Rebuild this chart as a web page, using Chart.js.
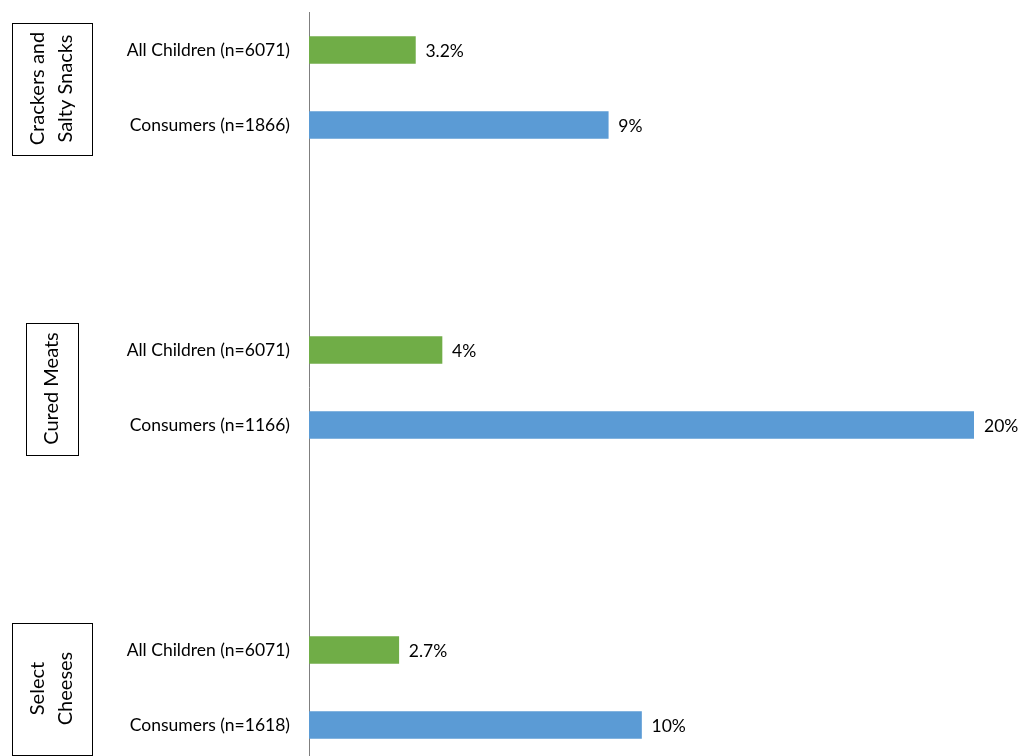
<!DOCTYPE HTML>
<html>
<head>
  <meta charset="UTF-8">
  <script src="https://cdn.jsdelivr.net/npm/chart.js"></script>
  <style>
    html, body {
      margin: 0;
      padding: 0;
      background: #fff;
      overflow: hidden;
    }
    .chart-container {
      width: 1019px;
      height: 764px;
    }
  </style>
</head>
<body>
  <div class="chart-container">
    <canvas id="sodiumChart"></canvas>
  </div>

<script>
  // food groups, top to bottom
  const groupNames = [['Crackers and', 'Salty Snacks'], ['Cured Meats'], ['Select', 'Cheeses']];
  const allChildrenN = 6071;
  const consumerN = [1866, 1166, 1618];
  const allChildrenPct = [3.2, 4, 2.7];
  const consumerPct = [9, 20, 10];

  const FONT = 'Lato, "Open Sans", sans-serif';
  const GREEN = '#70AD47';
  const BLUE = '#5B9BD5';

  // each group takes 4 rows: all children, consumers, then two empty rows
  const rowLabels = [];
  const greenData = [];
  const blueData = [];
  groupNames.forEach((g, i) => {
    rowLabels.push('All Children (n=' + allChildrenN + ')', 'Consumers (n=' + consumerN[i] + ')');
    greenData.push(allChildrenPct[i], null);
    blueData.push(null, consumerPct[i]);
    if (i < groupNames.length - 1) {
      rowLabels.push('', '');
      greenData.push(null, null);
      blueData.push(null, null);
    }
  });

  // value labels at the bar ends + the boxed group names
  const annotate = {
    id: 'annotate',
    afterDatasetsDraw(chart) {
      const ctx = chart.ctx;
      ctx.save();
      ctx.fillStyle = '#000';
      ctx.font = '17.5px ' + FONT;
      ctx.textAlign = 'left';
      ctx.textBaseline = 'middle';
      chart.data.datasets.forEach((ds, di) => {
        chart.getDatasetMeta(di).data.forEach((bar, i) => {
          if (ds.data[i] == null) return;
          ctx.fillText(ds.data[i] + '%', bar.x + 10, bar.y + 1);
        });
      });

      const yScale = chart.scales.y;
      ctx.font = '20px ' + FONT;
      ctx.textAlign = 'center';
      groupNames.forEach((lines, i) => {
        const cy = (yScale.getPixelForValue(i * 4) + yScale.getPixelForValue(i * 4 + 1)) / 2 + 1;
        const cx = 52;
        const w = lines.length > 1 ? 80 : 52;
        const h = 132;
        ctx.strokeStyle = '#000';
        ctx.lineWidth = 1;
        ctx.strokeRect(Math.round(cx - w / 2) + 0.5, Math.round(cy - h / 2) + 0.5, w, h);
        ctx.save();
        ctx.translate(cx, cy);
        ctx.rotate(-Math.PI / 2);
        const lh = 28;
        lines.forEach((t, k) => {
          ctx.fillText(t, 0, (k - (lines.length - 1) / 2) * lh);
        });
        ctx.restore();
      });
      ctx.restore();
    }
  };

  const ctx = document.getElementById('sodiumChart').getContext('2d');
  new Chart(ctx, {
    type: 'bar',
    data: {
      labels: rowLabels,
      datasets: [{
        label: 'All Children',
        data: greenData,
        backgroundColor: GREEN,
        barThickness: 27
      }, {
        label: 'Consumers',
        data: blueData,
        backgroundColor: BLUE,
        barThickness: 27
      }]
    },
    options: {
      indexAxis: 'y',
      responsive: true,
      maintainAspectRatio: false,
      animation: false,
      datasets: { bar: { grouped: false } },
      layout: { padding: { top: 12.5, right: 45, bottom: 1.5, left: 0 } },
      plugins: {
        legend: { display: false },
        tooltip: { enabled: false }
      },
      scales: {
        x: {
          display: false,
          min: 0,
          max: 20
        },
        y: {
          grid: { display: false, drawTicks: false },
          border: { display: true, color: '#7f7f7f', width: 1 },
          ticks: {
            color: '#000',
            padding: 19,
            font: { family: FONT, size: 17.5 }
          },
          afterFit(scale) {
            scale.width = 309;
            scale.paddingTop = 0;
            scale.paddingBottom = 0;
          }
        }
      }
    },
    plugins: [annotate]
  });
</script>
</body>
</html>
